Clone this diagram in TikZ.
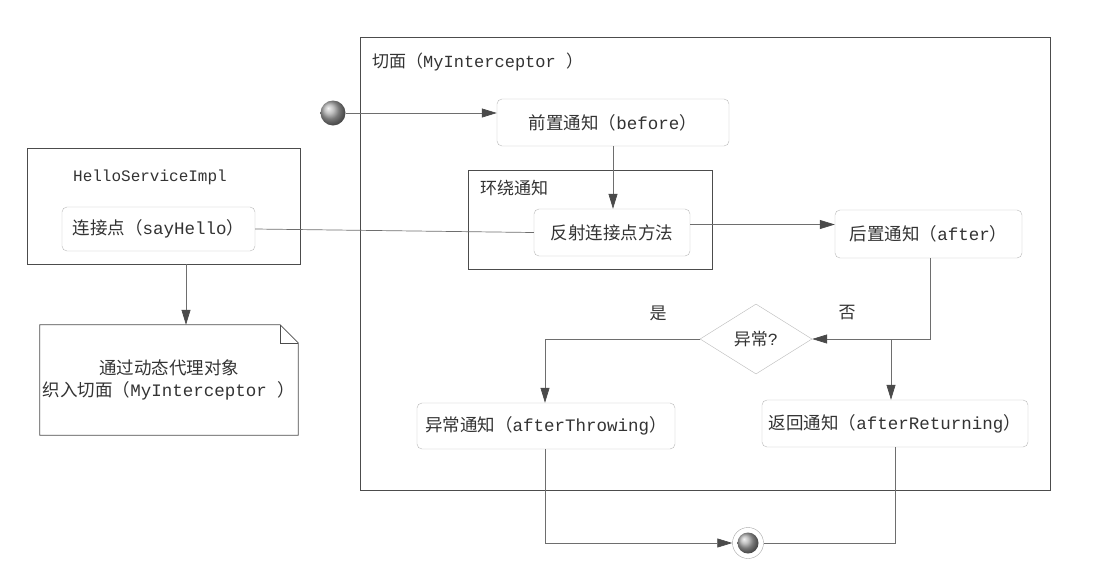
\documentclass[tikz,border=0pt]{standalone}
\usepackage{fontspec}
\setmainfont{Liberation Mono}
\newfontfamily\cjk{Noto Sans CJK SC}
\usetikzlibrary{arrows.meta, shapes.geometric}
\definecolor{linegray}{HTML}{6E6E6E}
\definecolor{tipgray}{HTML}{4A4A4A}

\begin{document}
\begin{tikzpicture}[x=1pt,y=-1pt]
\tikzstyle{action}=[draw=gray!55, rounded corners=5pt, fill=white, inner sep=0pt, text=black!80, font=\fontsize{17.5}{20}\selectfont]
\tikzstyle{frame}=[draw=black!70, line width=0.8pt, inner sep=0pt]
\tikzstyle{label}=[text=black!80, inner sep=0pt, font=\fontsize{17}{20}\selectfont]
\tikzstyle{flow}=[draw=linegray, line width=0.7pt]
\tikzstyle{arr}=[flow, -{Triangle[length=15pt,width=9pt,color=tipgray]}]

\useasboundingbox (0,0) rectangle (1117,571);

% frames
\node[frame, minimum width=690pt, minimum height=453pt] (aspect) at (705,263.5) {};
\node[frame, minimum width=244pt, minimum height=99pt] (around) at (590,219.5) {};
\node[frame, minimum width=273pt, minimum height=116pt] (hello) at (163.5,206) {};
\node[label, anchor=west] (aspecttitle) at (372,62) {{\cjk 切面（}MyInterceptor {\cjk ）}};
\node[label, anchor=west] (aroundtitle) at (480,188) {\cjk 环绕通知};
\node[label, font=\fontsize{16}{19}\selectfont] (hellotitle) at (150,177) {HelloServiceImpl};

% actions
\node[action, minimum width=232pt, minimum height=47pt] (before) at (613,122.5) {{\cjk 前置通知（}before{\cjk ）}};
\node[action, minimum width=156pt, minimum height=47pt] (reflect) at (612,232.5) {\cjk 反射连接点方法};
\node[action, minimum width=187pt, minimum height=48pt] (after) at (928.5,234) {{\cjk 后置通知（}after{\cjk ）}};
\node[action, minimum width=258pt, minimum height=46pt] (throw) at (546,426) {{\cjk 异常通知（}afterThrowing{\cjk ）}};
\node[action, minimum width=266pt, minimum height=47pt] (ret) at (895,423.5) {{\cjk 返回通知（}afterReturning{\cjk ）}};
\node[action, minimum width=193pt, minimum height=44pt] (joinpt) at (158.5,229) {{\cjk 连接点（}sayHello{\cjk ）}};
\node[diamond, draw=gray!55, fill=white, inner sep=0pt, aspect=1.6, minimum width=112pt, minimum height=70pt, text=black!80, font=\fontsize{17}{20}\selectfont] (dec) at (756,339) {{\cjk 异常}?};
\node[label] (yes) at (658,313) {\cjk 是};
\node[label] (no) at (847,313) {\cjk 否};

% start / stop
\node[circle, inner sep=0pt, minimum size=25pt, ball color=gray!65] (start) at (333,113) {};
\node[circle, draw=gray!70, inner sep=0pt, minimum size=31pt, fill=white] (stop) at (748,543) {};
\node[circle, inner sep=0pt, minimum size=21pt, ball color=gray!65] (stopin) at (748,543) {};

% note
\node[label, minimum width=258pt, minimum height=110pt, align=center, font=\fontsize{17.5}{22}\selectfont] (note) at (169,380) {{\cjk 通过动态代理对象}\\{\cjk 织入切面（}MyInterceptor {\cjk ）}};
\draw[frame] (note.north west) -- ([xshift=-18pt]note.north east) -- ([yshift=-18pt]note.north east) -- (note.south east) -- (note.south west) -- cycle;
\draw[draw=black!70, line width=0.6pt] ([xshift=-18pt]note.north east) |- ([yshift=-18pt]note.north east);

% connectors
\draw[arr] (start.east) -- (start.east -| before.west);
\draw[arr] (before.south) -- (before.south |- reflect.north);
\draw[flow] (joinpt.east) -- (reflect.west);
\draw[arr] ([yshift=8pt]reflect.east) -- ([yshift=8pt]reflect.east -| after.west);
\draw[arr] ([xshift=1.5pt]after.south) |- (dec.east);
\coordinate (fork) at (891,339);
\draw[arr] (fork) -- (fork |- ret.north);
\draw[arr] (dec.west) -| ([xshift=-1pt]throw.north);
\draw[arr] ([xshift=-1pt]throw.south) |- (stop.west);
\draw[flow] (ret.south) |- (stop.east);
\draw[arr] ([xshift=22.5pt]hello.south) -- ([xshift=22.5pt]hello.south |- note.north);
\end{tikzpicture}
\end{document}
